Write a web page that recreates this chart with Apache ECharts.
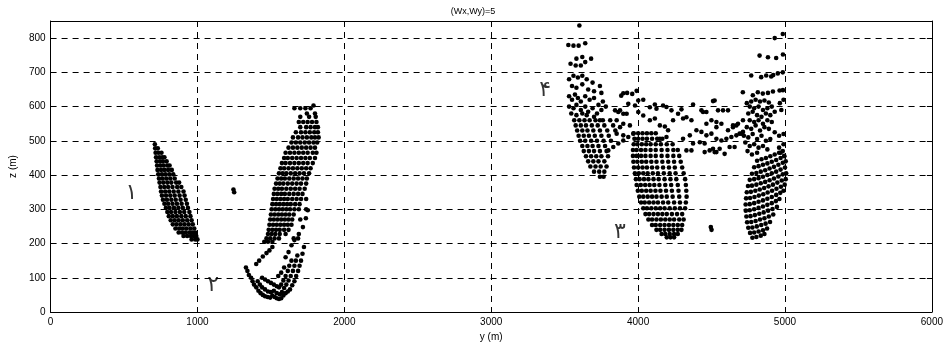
<!DOCTYPE html>
<html>
<head>
<meta charset="utf-8">
<script src="https://cdn.jsdelivr.net/npm/echarts@6/dist/echarts.min.js"></script>
<style>
html,body{margin:0;padding:0;background:#fff;}
#chart{width:946px;height:347px;}
</style>
</head>
<body>
<div id="chart"></div>
<script>
// Axis ticks
const xTicks = [0, 1000, 2000, 3000, 4000, 5000, 6000];
const zTicks = [0, 100, 200, 300, 400, 500, 600, 700, 800];

// Group 1: band descending from (710,490) to (1000,212); rows of [z, [y...]]
const group1Rows = [
  [490, [710]],
  [478, [712, 730]],
  [465, [715, 735, 755]],
  [452, [718, 740, 760, 775]],
  [440, [722, 745, 765, 790]],
  [428, [725, 748, 770, 795, 810]],
  [415, [728, 752, 775, 800, 825]],
  [402, [733, 758, 782, 808, 835]],
  [390, [738, 762, 788, 815, 845]],
  [378, [742, 768, 795, 822, 855, 875]],
  [365, [748, 774, 800, 830, 862, 890]],
  [352, [752, 780, 808, 838, 870, 905]],
  [340, [758, 786, 815, 845, 878, 912]],
  [328, [765, 792, 822, 852, 885, 920]],
  [316, [775, 800, 830, 860, 892, 928]],
  [304, [785, 810, 840, 870, 900, 935]],
  [292, [795, 820, 850, 880, 910, 945]],
  [280, [805, 832, 860, 890, 920, 952]],
  [268, [818, 845, 872, 900, 930, 960]],
  [256, [832, 858, 885, 912, 940, 968]],
  [244, [850, 875, 900, 925, 952, 978]],
  [232, [872, 895, 920, 945, 965, 985]],
  [222, [905, 930, 955, 975, 992]],
  [212, [960, 985, 1000]]
];

// Group 2: rising band from (1455,205) to (1800,603)
const group2Rows = [
  [603, [1790]],
  [595, [1660, 1700, 1735, 1770]],
  [580, [1745, 1800]],
  [570, [1700, 1760, 1805]],
  [555, [1690, 1720, 1750, 1780, 1810]],
  [540, [1700, 1740, 1770, 1800, 1820]],
  [525, [1670, 1705, 1735, 1765, 1795, 1820]],
  [510, [1650, 1685, 1715, 1745, 1775, 1800, 1825]],
  [495, [1640, 1670, 1700, 1730, 1760, 1790, 1815]],
  [480, [1620, 1650, 1680, 1710, 1740, 1770, 1800]],
  [465, [1600, 1630, 1660, 1690, 1720, 1750, 1785, 1810]],
  [450, [1590, 1615, 1645, 1675, 1705, 1735, 1765, 1800]],
  [435, [1575, 1600, 1630, 1660, 1690, 1720, 1750, 1785]],
  [420, [1565, 1590, 1620, 1650, 1680, 1710, 1740, 1770]],
  [405, [1555, 1580, 1605, 1635, 1665, 1695, 1725, 1760]],
  [390, [1545, 1570, 1595, 1625, 1655, 1685, 1715, 1745]],
  [375, [1535, 1560, 1585, 1615, 1645, 1675, 1705, 1740]],
  [360, [1525, 1550, 1575, 1605, 1635, 1665, 1695, 1730]],
  [345, [1520, 1545, 1570, 1595, 1625, 1655, 1685, 1715]],
  [330, [1515, 1540, 1565, 1590, 1615, 1645, 1675, 1705, 1740]],
  [315, [1510, 1535, 1560, 1585, 1610, 1635, 1665, 1695]],
  [300, [1505, 1530, 1555, 1580, 1605, 1630, 1660, 1690, 1740]],
  [285, [1500, 1525, 1550, 1575, 1600, 1625, 1655]],
  [270, [1495, 1520, 1545, 1570, 1595, 1620, 1645, 1700]],
  [255, [1490, 1515, 1540, 1565, 1590, 1615, 1640]],
  [240, [1485, 1510, 1535, 1560, 1590, 1620]],
  [228, [1480, 1505, 1530, 1560, 1600, 1690]],
  [215, [1470, 1495, 1525, 1555, 1655, 1685]],
  [205, [1455, 1480, 1510]]
];

// Group 2 lower hook, [y, z]
const group2Hook = [
  [1330,130],[1340,120],[1350,108],[1365,100],[1375,90],[1385,80],[1400,72],[1415,62],[1430,55],[1445,50],
  [1460,46],[1478,44],[1495,42],[1510,48],[1525,44],[1540,40],[1555,38],[1570,40],[1585,48],[1600,55],
  [1615,60],[1630,66],[1645,78],[1660,90],[1672,105],[1685,120],[1695,135],[1705,150],[1715,170],[1725,190],
  [1410,90],[1425,80],[1440,72],[1460,66],[1480,60],[1500,58],[1520,62],[1540,55],[1560,52],[1575,58],
  [1590,70],[1605,80],[1620,92],[1635,105],[1650,120],[1660,135],[1670,150],[1680,165],
  [1440,100],[1460,95],[1480,90],[1500,85],[1520,80],[1540,75],[1555,72],[1570,80],[1585,92],[1600,105],
  [1615,120],[1625,135],[1640,150],
  [1400,140],[1420,150],[1445,162],[1470,172],[1490,180],[1510,190],[1550,105],[1570,115],[1590,130],
  [1600,160],[1620,175],[1640,195],[1660,210],[1751,297],[1738,274],[1718,248]
];

// Lone points
const loners = [[1245,358],[1250,350],[4495,248],[4500,240]];

// Group 4: upper cloud near y = 3500-3850
const group4Top = [
  [3600,837],[3525,780],[3560,778],[3595,778],[3640,785],
  [3540,725],[3575,720],[3610,720],[3640,730],[3680,740],[3580,740],[3620,745],
  [3530,680],[3560,690],[3590,685],[3620,690],[3650,680],[3690,670],[3740,660],
  [3550,660],[3580,655],[3620,665],[3660,650],[3700,645],[3750,640],
  [3530,630],[3550,620],[3570,635],[3590,625],[3610,615],[3640,630],[3670,620],[3700,625],[3730,605],[3760,615],
  [3885,632],[3925,640],[3960,637],[3990,646],
  [3530,600],[3560,595],[3580,605],[3610,590],[3640,600],[3660,585],[3690,595],[3720,580],[3750,590],[3780,600],
  [3545,580],[3580,575],[3620,580],[3650,575],[3700,570],[3740,560],
  [3843,589],[3865,584],[3899,579],[3933,608],[3979,603],[4001,584],[4035,574],[4080,598],[4125,594],[4170,603]
];
const group4Rows = [
  [560, [3565, 3600, 3635, 3670, 3710, 3760, 3810]],
  [545, [3575, 3610, 3645, 3685, 3725, 3770, 3830]],
  [530, [3585, 3620, 3655, 3695, 3740, 3790, 3845]],
  [515, [3595, 3630, 3665, 3705, 3750, 3800]],
  [500, [3605, 3640, 3680, 3720, 3765, 3815]],
  [485, [3620, 3655, 3690, 3730, 3775]],
  [470, [3630, 3665, 3700, 3740, 3785]],
  [455, [3645, 3680, 3715, 3750, 3795]],
  [440, [3660, 3695, 3730, 3770]],
  [425, [3675, 3710, 3745, 3785]],
  [410, [3700, 3735, 3770]],
  [395, [3740, 3765]]
];

// Scattered layer between y = 3800 and 5000
const band = [
  [3899,639],[4001,618],[4035,620],
  [4114,606],[4193,599],[4227,589],[4295,592],[4374,606],[4442,584],[4510,616],
  [3877,589],[3922,579],[3854,560],[3899,550],[3944,545],
  [4080,560],[4114,565],[4148,545],[4182,542],[4204,531],[4238,560],[4272,579],[4306,565],[4329,569],
  [4363,560],[4397,531],[4431,526],[4465,550],[4499,560],[4533,540],
  [4148,506],[4193,511],[4306,506],[4352,516],[4374,492],[4420,496],[4453,492],[4510,477],[4533,467],
  [4329,472],[4363,472],
  [4431,589],[4465,584],[4544,589],[4578,589],[4612,589],[4521,618],
  [4533,555],[4567,550],[4646,545],[4680,550],[4714,560],
  [4465,516],[4499,521],[4612,531],[4646,540],[4669,545],[4691,521],[4714,526],
  [4533,506],[4567,501],[4601,506],[4635,511],[4669,516],[4703,521],
  [4453,467],[4487,472],[4521,467],[4555,477],[4589,462],[4623,482],[4657,482],
  [3797,472],[3831,482],[3865,492],[3899,501],[3933,511],[3967,521],[3854,521],[3899,516],[3877,540],
  [4740,610],[4770,615],[4800,620],[4830,615],[4860,618],[4890,612],[4760,600],[4790,595],[4820,600],
  [4850,590],[4880,595],[4910,600],[4750,580],[4780,585],[4810,575],[4840,570],[4870,580],[4900,575],
  [4930,585],[4760,560],[4790,555],[4820,560],[4850,550],[4880,560],[4910,555],[4740,540],[4770,535],
  [4800,545],[4830,530],[4860,540],[4890,535],[4930,525],[4720,515],[4750,510],[4780,520],[4810,505],
  [4840,515],[4870,500],[4900,505],[4960,515],[4990,520],[4730,495],[4760,485],[4790,490],[4820,480],
  [4850,485],[4880,475],[4745,470],[4775,460],[4810,465],[4960,480],[4990,490],[4995,455],[4970,465],
  [4965,610],[4990,620],[4975,590]
];

// Column above the right bowl
const column = [
  [4930,800],[4985,812],
  [4827,749],[4884,744],[4940,742],[4986,752],
  [4770,691],[4838,686],[4872,691],[4906,688],[4920,692],[4951,697],[4985,700],
  [4713,642],[4781,633],[4815,642],[4849,638],[4884,640],[4918,644],[4963,647],[4986,648]
];

// Group 3, left bowl: rows of [z, [y...]]
const bowlARows = [
  [522, [3970, 4000, 4030, 4060, 4090, 4120]],
  [506, [3975, 4000, 4030, 4060, 4095, 4130, 4165]],
  [490, [3970, 3995, 4025, 4055, 4085, 4120, 4155, 4195, 4235]],
  [473, [3965, 3990, 4020, 4050, 4085, 4120, 4160, 4200, 4240, 4270]],
  [456, [3965, 3990, 4020, 4050, 4085, 4120, 4160, 4200, 4240, 4280]],
  [439, [3968, 3995, 4025, 4055, 4090, 4125, 4165, 4205, 4245, 4290]],
  [422, [3972, 4000, 4030, 4060, 4095, 4130, 4170, 4210, 4250, 4300]],
  [405, [3978, 4005, 4035, 4065, 4100, 4135, 4175, 4215, 4255, 4310]],
  [388, [3985, 4010, 4040, 4070, 4105, 4140, 4180, 4220, 4260, 4320]],
  [371, [3990, 4018, 4048, 4078, 4110, 4145, 4185, 4225, 4270, 4325]],
  [354, [3998, 4025, 4055, 4085, 4118, 4152, 4190, 4230, 4275, 4328]],
  [337, [4008, 4035, 4065, 4095, 4125, 4160, 4195, 4235, 4280, 4330]],
  [320, [4020, 4045, 4075, 4105, 4135, 4170, 4205, 4245, 4285, 4325]],
  [303, [4035, 4060, 4090, 4120, 4150, 4180, 4215, 4250, 4285, 4320]],
  [286, [4050, 4075, 4105, 4135, 4165, 4195, 4230, 4265, 4300]],
  [270, [4070, 4095, 4125, 4155, 4185, 4215, 4245, 4280, 4310]],
  [254, [4095, 4120, 4150, 4180, 4210, 4240, 4270, 4300]],
  [240, [4125, 4150, 4180, 4210, 4240, 4270, 4295]],
  [228, [4160, 4185, 4215, 4245, 4270]],
  [218, [4195, 4220, 4245]]
];

// Right bowl, [y, z]
const bowlB = [
  [4810,442],[4840,446],[4870,450],[4900,455],[4930,460],[4960,465],[4985,470],
  [4790,423],[4820,426],[4850,430],[4880,434],[4910,439],[4940,444],[4970,450],[4995,456],
  [4775,404],[4805,406],[4835,410],[4865,414],[4895,419],[4925,424],[4955,430],[4985,436],[5005,440],
  [4760,386],[4790,388],[4820,391],[4850,395],[4880,400],[4910,405],[4940,410],[4970,416],[5000,422],
  [4748,368],[4775,369],[4805,372],[4835,376],[4865,380],[4895,385],[4925,390],[4955,396],[4985,402],[5008,405],
  [4740,350],[4768,351],[4798,354],[4828,358],[4858,362],[4888,367],[4918,372],[4948,378],[4978,384],[5005,388],
  [4735,332],[4762,333],[4792,336],[4822,340],[4852,344],[4882,349],[4912,354],[4942,360],[4972,366],[4998,372],
  [4732,314],[4760,315],[4790,318],[4820,322],[4850,326],[4880,331],[4910,336],[4940,342],[4968,348],[4990,354],
  [4733,296],[4760,297],[4790,300],[4820,304],[4850,308],[4880,313],[4910,318],[4938,324],[4962,330],
  [4737,279],[4765,280],[4795,283],[4825,287],[4855,291],[4885,296],[4915,301],[4945,307],
  [4742,262],[4770,263],[4800,266],[4830,270],[4860,274],[4890,279],[4920,285],
  [4750,246],[4778,247],[4808,250],[4838,254],[4868,258],[4898,263],
  [4762,231],[4790,232],[4820,235],[4850,239],[4878,244],
  [4778,217],[4805,219],[4835,223],[4860,228]
];

// Region labels (Persian numerals) and where they sit, in axis units
const regionNames = ['۱', '۲', '۳', '۴'];
const regionY = [550, 1107, 3876, 3367];
const regionZ = [347, 79, 233, 647];

function expandRows(rows) {
  const out = [];
  rows.forEach(function (r) { r[1].forEach(function (y) { out.push([y, r[0]]); }); });
  return out;
}

const points = [].concat(
  expandRows(group1Rows), expandRows(group2Rows), group2Hook, loners,
  group4Top, expandRows(group4Rows), band, column, expandRows(bowlARows), bowlB
);

const labelData = regionNames.map(function (n, i) { return { value: [regionY[i], regionZ[i]], name: n }; });

const axisFont = { fontFamily: 'Liberation Sans, Arial, sans-serif', fontSize: 10, color: '#000' };
const dashed = { show: true, lineStyle: { color: '#000', width: 1, type: [6, 5] } };

const chart = echarts.init(document.getElementById('chart'), null, { renderer: 'canvas' });
chart.setOption({
  backgroundColor: '#fff',
  animation: false,
  title: {
    text: '(Wx,Wy)=5', left: 'center', top: 2,
    textStyle: { fontFamily: 'Liberation Sans, Arial, sans-serif', fontSize: 9, fontWeight: 'normal', color: '#000' }
  },
  grid: { left: 49, right: 14, top: 21, bottom: 35 },
  xAxis: [
    {
      type: 'value', position: 'bottom', min: xTicks[0], max: xTicks[xTicks.length - 1], interval: 1000,
      name: 'y (m)', nameLocation: 'middle', nameGap: 18, nameTextStyle: axisFont,
      axisLine: { show: true, onZero: false, lineStyle: { color: '#000', width: 1 } },
      axisTick: { show: true, inside: true, length: 5, lineStyle: { color: '#000' } },
      axisLabel: Object.assign({ margin: 5, formatter: function (v) { return String(v); } }, axisFont),
      splitLine: dashed
    },
    {
      type: 'value', position: 'top', min: xTicks[0], max: xTicks[xTicks.length - 1], interval: 1000,
      axisLine: { show: true, onZero: false, lineStyle: { color: '#000', width: 1 } },
      axisTick: { show: true, inside: true, length: 5, lineStyle: { color: '#000' } },
      axisLabel: { show: false }, splitLine: { show: false }
    }
  ],
  yAxis: [
    {
      type: 'value', position: 'left', min: zTicks[0], max: 850, interval: 100,
      name: 'z (m)', nameLocation: 'middle', nameGap: 22, nameTextStyle: axisFont,
      axisLine: { show: true, onZero: false, lineStyle: { color: '#000', width: 1 } },
      axisTick: { show: true, inside: true, length: 5, lineStyle: { color: '#000' } },
      axisLabel: Object.assign({ margin: 5, formatter: function (v) { return zTicks.indexOf(v) >= 0 ? String(v) : ''; } }, axisFont),
      splitLine: dashed
    },
    {
      type: 'value', position: 'right', min: zTicks[0], max: 850, interval: 100,
      axisLine: { show: true, onZero: false, lineStyle: { color: '#000', width: 1 } },
      axisTick: { show: true, inside: true, length: 5, lineStyle: { color: '#000' } },
      axisLabel: { show: false }, splitLine: { show: false }
    }
  ],
  series: [
    {
      type: 'scatter', xAxisIndex: 0, yAxisIndex: 0,
      symbol: 'circle', symbolSize: 4.6,
      itemStyle: { color: '#000', opacity: 1 },
      emphasis: { disabled: true },
      data: points
    },
    {
      type: 'scatter', xAxisIndex: 0, yAxisIndex: 0,
      symbolSize: 0, data: labelData,
      label: {
        show: true, position: 'inside',
        formatter: function (p) { return p.name; },
        fontFamily: 'DejaVu Sans, Noto Sans, sans-serif', fontSize: 22, color: '#000'
      }
    }
  ]
});
</script>
</body>
</html>
